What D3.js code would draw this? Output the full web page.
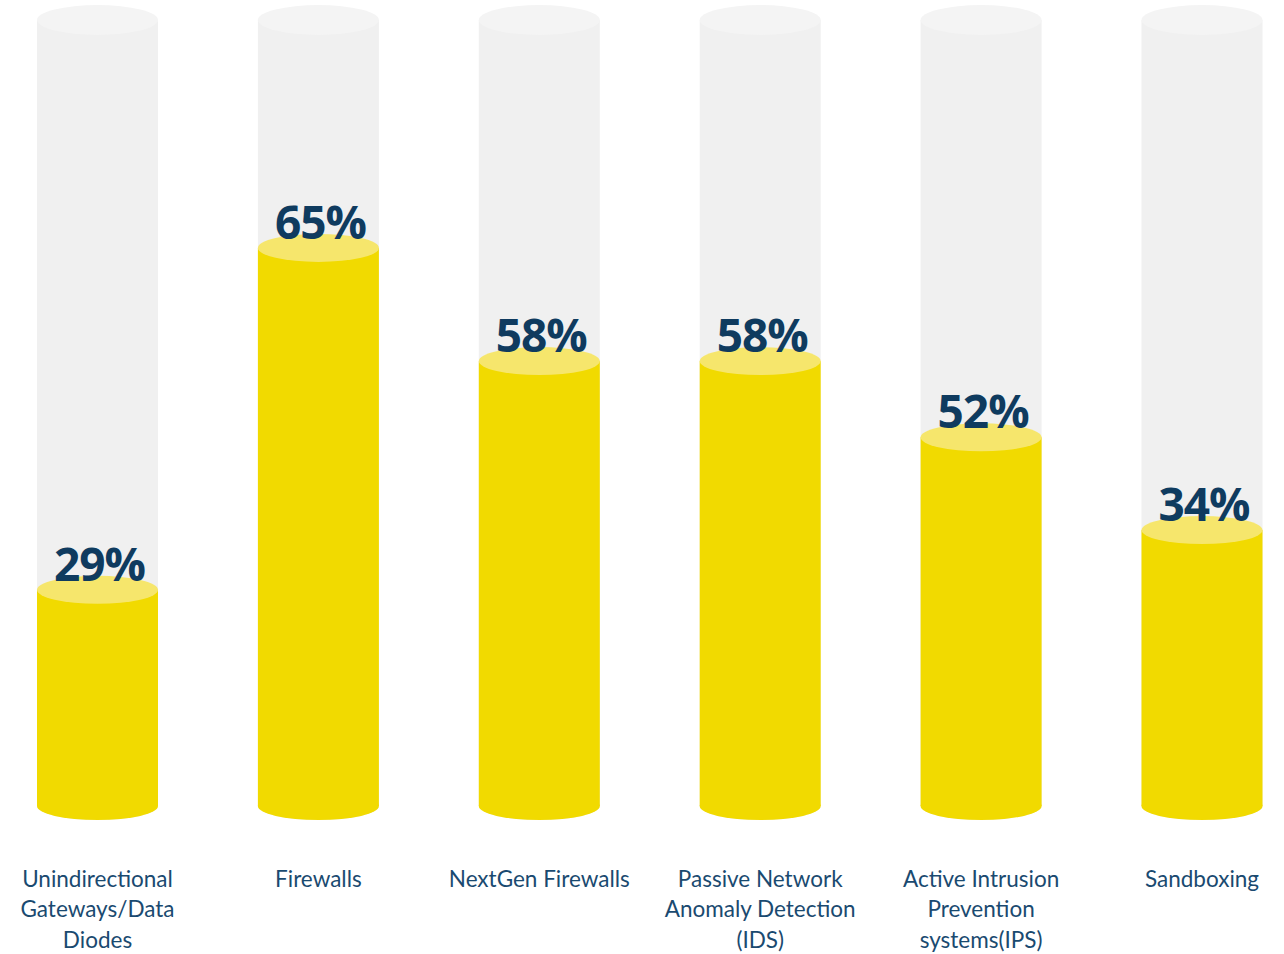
<!DOCTYPE html>
<html>
<head>
<meta charset="utf-8">
<script src="https://cdn.jsdelivr.net/npm/d3@7"></script>
<style>
  html, body { margin: 0; padding: 0; background: #ffffff; }
  svg { display: block; }
</style>
</head>
<body>
<svg id="chart" width="1284" height="954"></svg>
<script>
// ---- data ----
const categories = [
  ["Unindirectional", "Gateways/Data", "Diodes"],
  ["Firewalls"],
  ["NextGen Firewalls"],
  ["Passive Network", "Anomaly Detection", "(IDS)"],
  ["Active Intrusion", "Prevention", "systems(IPS)"],
  ["Sandboxing"]
];
const valueLabels = ["29%", "65%", "58%", "58%", "52%", "34%"];
// fill level of each cylinder as drawn in the picture (percent of cylinder height)
const fillLevels = [27.5, 71.0, 56.6, 56.6, 46.9, 35.1];

// ---- layout ----
const W = 1284, H = 954;
const svg = d3.select("#chart");
const keys = categories.map((c, i) => "c" + i);

const x = d3.scalePoint().domain(keys).range([97.5, 1202]);
const y = d3.scaleLinear().domain([0, 100]).range([806, 20]);

const rx = 60.5, ryTop = 15, ry = 14;

const g = svg.append("g");

const items = keys.map((k, i) => ({ k, i, cat: categories[i], label: valueLabels[i], level: fillLevels[i] }));

const col = g.selectAll("g.col").data(items).enter().append("g").attr("class", "col");

// gray background cylinder
col.append("rect")
  .attr("x", d => x(d.k) - rx)
  .attr("y", y(100))
  .attr("width", rx * 2)
  .attr("height", y(0) - y(100))
  .attr("fill", "#f0f0f0");
col.append("ellipse")
  .attr("cx", d => x(d.k))
  .attr("cy", y(0))
  .attr("rx", rx).attr("ry", ry)
  .attr("fill", "#f0f0f0");
col.append("ellipse")
  .attr("cx", d => x(d.k))
  .attr("cy", y(100))
  .attr("rx", rx).attr("ry", ryTop)
  .attr("fill", "#f4f4f4");

// yellow filled cylinder
col.append("ellipse")
  .attr("cx", d => x(d.k))
  .attr("cy", y(0))
  .attr("rx", rx).attr("ry", ry)
  .attr("fill", "#f1da00");
col.append("rect")
  .attr("x", d => x(d.k) - rx)
  .attr("y", d => y(d.level))
  .attr("width", rx * 2)
  .attr("height", d => y(0) - y(d.level))
  .attr("fill", "#f1da00");
col.append("ellipse")
  .attr("cx", d => x(d.k))
  .attr("cy", d => y(d.level))
  .attr("rx", rx).attr("ry", ry)
  .attr("fill", "#f6e66c");

// value labels
col.append("text")
  .attr("x", d => x(d.k) + 2)
  .attr("y", d => y(d.level) - 9)
  .attr("text-anchor", "middle")
  .attr("font-family", "'Open Sans', Lato, sans-serif")
  .attr("font-weight", "bold")
  .attr("font-size", 46)
  .attr("letter-spacing", -1)
  .attr("fill", "#0f3b5f")
  .text(d => d.label);

// category labels
const cl = col.append("text")
  .attr("text-anchor", "middle")
  .attr("font-family", "Lato, 'Open Sans', sans-serif")
  .attr("font-size", 22.5)
  .attr("fill", "#1a4a70");
cl.selectAll("tspan").data(d => d.cat.map(t => ({ t, d }))).enter().append("tspan")
  .attr("x", o => x(o.d.k))
  .attr("y", (o, j) => 887 + j * 30.3)
  .text(o => o.t);
</script>
</body>
</html>
